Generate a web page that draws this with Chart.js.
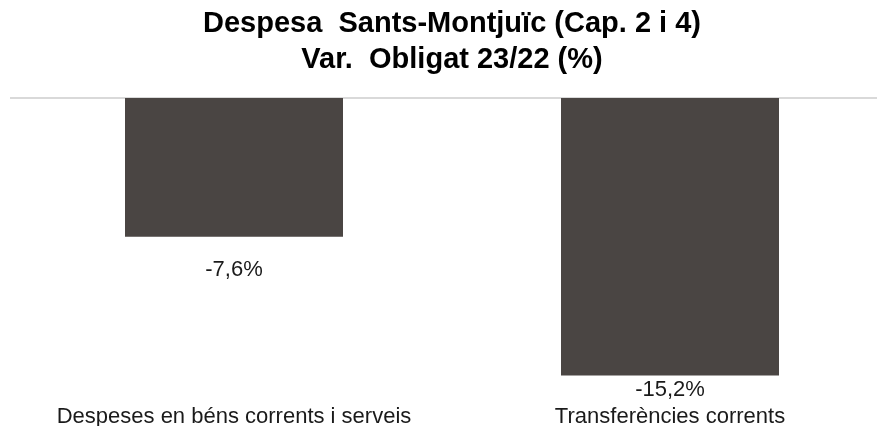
<!DOCTYPE html>
<html>
<head>
<meta charset="utf-8">
<script src="https://cdn.jsdelivr.net/npm/chart.js@4"></script>
<style>
  html, body { margin: 0; padding: 0; background: #fff; overflow: hidden; }
  #wrap { width: 888px; height: 430px; }
</style>
</head>
<body>
<div id="wrap"><canvas id="displayChart"></canvas></div>
<script>
const categories = ['Despeses en béns corrents i serveis', 'Transferències corrents'];
const variation = [-7.6, -15.2];
const titleLines = ['Despesa  Sants-Montjuïc (Cap. 2 i 4)', 'Var.  Obligat 23/22 (%)'];

const FONT = '"Liberation Sans", Arial, sans-serif';

// light rule at zero, running past the plot area on the left
const zeroLine = {
    id: 'zeroLine',
    beforeDatasetsDraw(chart) {
        const ctx = chart.ctx;
        const y = chart.scales.y.getPixelForValue(0);
        ctx.save();
        ctx.strokeStyle = '#d9d9d9';
        ctx.lineWidth = 2;
        ctx.beginPath();
        ctx.moveTo(10, y);
        ctx.lineTo(chart.width, y);
        ctx.stroke();
        ctx.restore();
    }
};

// percentage under each bar, kept inside the plot area
const valueLabels = {
    id: 'valueLabels',
    afterDatasetsDraw(chart) {
        const ctx = chart.ctx;
        const meta = chart.getDatasetMeta(0);
        ctx.save();
        ctx.font = '22px ' + FONT;
        ctx.fillStyle = '#1a1a1a';
        ctx.textAlign = 'center';
        ctx.textBaseline = 'middle';
        meta.data.forEach((bar, i) => {
            const v = chart.data.datasets[0].data[i];
            const text = v.toFixed(1).replace('.', ',') + '%';
            const y = Math.min(bar.y + 33, chart.chartArea.bottom - 6);
            ctx.fillText(text, bar.x, y);
        });
        ctx.restore();
    }
};

const ctx = document.getElementById('displayChart').getContext('2d');
// eslint-disable-next-line no-undef
new Chart(ctx, {
    type: 'bar',
    data: {
        labels: categories,
        datasets: [{
            data: variation,
            backgroundColor: '#4a4543',
            borderWidth: 0,
            barPercentage: 0.5,
            categoryPercentage: 1
        }]
    },
    options: {
        responsive: true,
        maintainAspectRatio: false,
        animation: false,
        layout: { padding: { left: 16, right: 0, top: 0, bottom: 4 } },
        plugins: {
            legend: { display: false },
            tooltip: { enabled: false },
            title: {
                display: true,
                text: titleLines,
                color: '#000',
                font: { family: FONT, size: 29, weight: 'bold', lineHeight: 1.241 },
                padding: { top: 6, bottom: 20 }
            }
        },
        scales: {
            x: {
                grid: { display: false },
                border: { display: false },
                afterFit(scale) { scale.height = 30; },
                ticks: {
                    color: '#1a1a1a',
                    padding: 0,
                    maxRotation: 0,
                    autoSkip: false,
                    font: { family: FONT, size: 22, lineHeight: 1.2 }
                }
            },
            y: {
                display: false,
                min: -16.33,
                max: 0
            }
        }
    },
    plugins: [zeroLine, valueLabels]
});
</script>
</body>
</html>
